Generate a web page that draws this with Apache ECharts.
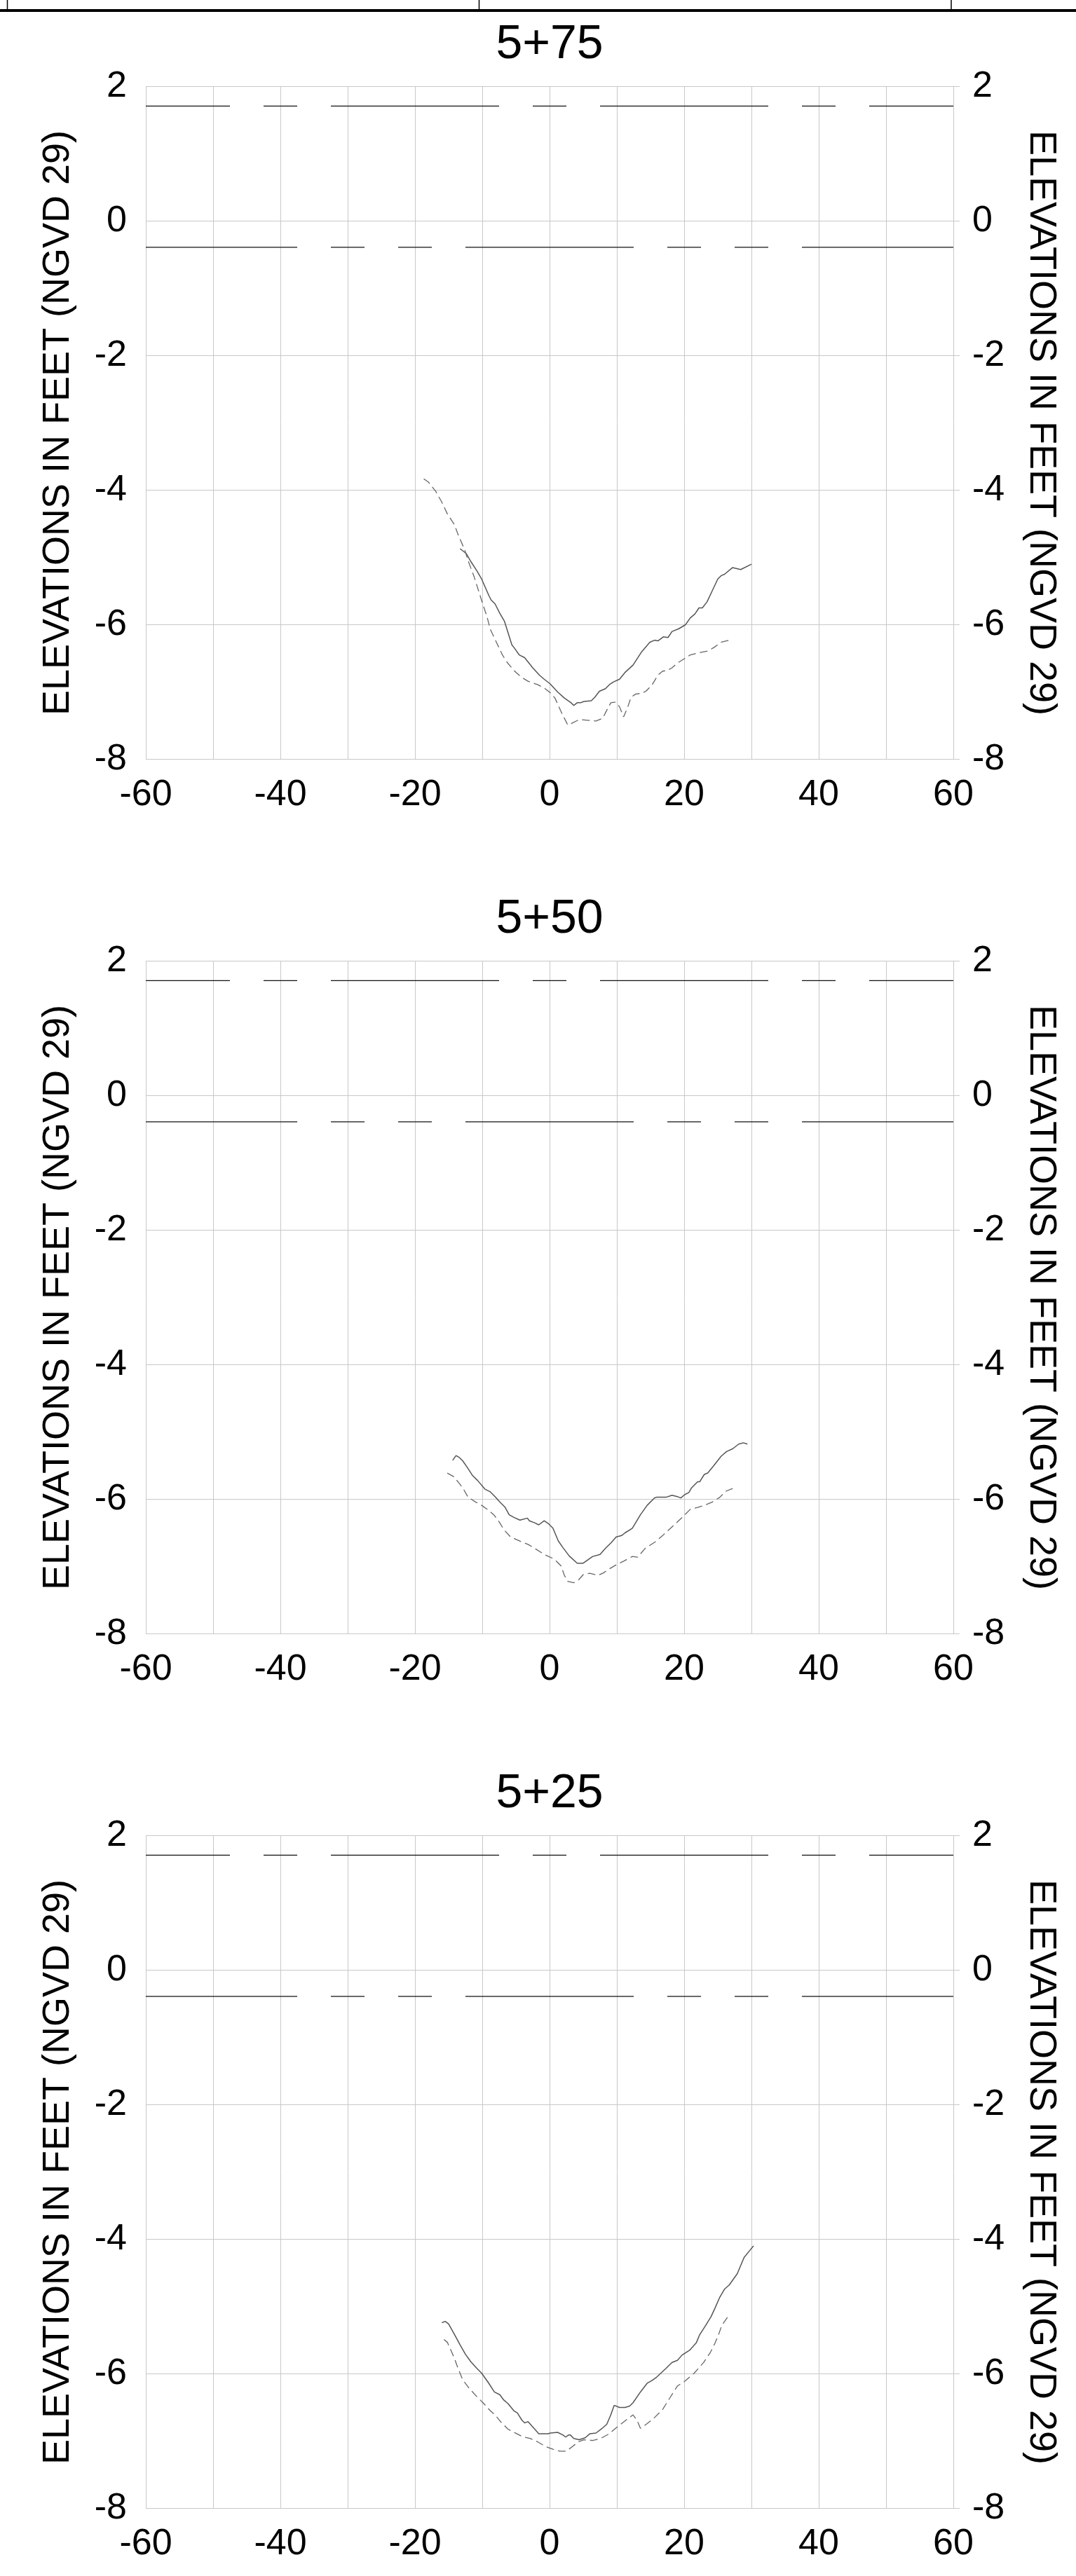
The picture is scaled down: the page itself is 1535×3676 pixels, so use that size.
<!DOCTYPE html>
<html><head><meta charset="utf-8">
<script src="https://cdn.jsdelivr.net/npm/echarts@6/dist/echarts.min.js"></script>
<style>html,body{margin:0;padding:0;background:#fff}#c{width:1535px;height:3676px}</style>
</head><body><div id="c"></div>
<script>
// ---------- DATA ----------
const stations = ['5+75', '5+50', '5+25'];
const xMin = -60, xMax = 60, xStep = 20;
const yMin = -8, yMax = 2, yStep = 2;
const upperLevel = 1.71;
const lowerLevel = -0.39;
const yAxisName = 'ELEVATIONS IN FEET (NGVD 29)';

const solid575 = [[-13.3,-4.87],[-12.4,-4.94],[-11.7,-5.06],[-10.8,-5.20],[-10.1,-5.32],[-9.0,-5.57],[-8.7,-5.63],[-8.1,-5.69],[-7.4,-5.83],[-6.7,-5.95],[-5.6,-6.30],[-5.2,-6.35],[-4.5,-6.45],[-3.7,-6.49],[-2.5,-6.64],[-1.5,-6.75],[-0.8,-6.81],[0.1,-6.88],[1.2,-7.00],[2.2,-7.09],[3.2,-7.16],[3.6,-7.20],[4.1,-7.16],[4.6,-7.16],[5.1,-7.14],[6.2,-7.13],[6.7,-7.08],[7.4,-6.99],[8.3,-6.95],[8.9,-6.89],[9.5,-6.85],[10.4,-6.81],[11.2,-6.71],[12.4,-6.60],[13.7,-6.40],[14.9,-6.26],[15.6,-6.23],[16.1,-6.24],[16.9,-6.18],[17.6,-6.19],[18.2,-6.10],[19.2,-6.06],[20.2,-6.00],[20.9,-5.90],[21.6,-5.84],[22.2,-5.75],[22.7,-5.75],[23.4,-5.66],[24.2,-5.49],[25.0,-5.32],[25.5,-5.27],[26.0,-5.25],[27.2,-5.15],[28.4,-5.18],[30.0,-5.10]];
const dashed575 = [[-18.7,-3.83],[-18.0,-3.88],[-16.9,-4.02],[-16.0,-4.18],[-15.2,-4.35],[-14.1,-4.52],[-13.6,-4.66],[-12.6,-4.89],[-12.1,-5.05],[-11.2,-5.29],[-10.0,-5.67],[-9.3,-5.88],[-8.8,-6.07],[-7.9,-6.26],[-7.0,-6.45],[-6.3,-6.56],[-5.3,-6.68],[-4.2,-6.78],[-3.2,-6.84],[-1.8,-6.89],[-0.8,-6.94],[0.1,-7.01],[0.8,-7.09],[1.7,-7.29],[2.7,-7.49],[3.2,-7.47],[4.4,-7.41],[5.7,-7.42],[6.9,-7.43],[7.9,-7.39],[8.4,-7.29],[9.1,-7.16],[9.8,-7.15],[10.4,-7.22],[11.0,-7.37],[11.6,-7.23],[12.1,-7.08],[12.8,-7.03],[13.7,-7.02],[14.3,-6.99],[15.2,-6.90],[16.1,-6.75],[16.8,-6.69],[17.5,-6.68],[18.2,-6.64],[19.0,-6.57],[20.1,-6.50],[20.9,-6.45],[22.5,-6.41],[23.5,-6.39],[24.4,-6.34],[25.5,-6.26],[26.7,-6.23]];

const solid550 = [[-14.4,-5.42],[-13.9,-5.35],[-13.4,-5.38],[-12.9,-5.43],[-12.2,-5.53],[-11.5,-5.64],[-10.7,-5.72],[-9.6,-5.85],[-8.8,-5.89],[-8.1,-5.96],[-7.4,-6.04],[-6.6,-6.12],[-6.0,-6.23],[-5.3,-6.27],[-4.4,-6.31],[-3.3,-6.28],[-3.0,-6.32],[-2.2,-6.35],[-1.6,-6.38],[-0.8,-6.32],[-0.2,-6.36],[0.5,-6.43],[1.3,-6.62],[2.0,-6.72],[2.9,-6.84],[4.1,-6.95],[5.0,-6.95],[6.4,-6.85],[7.5,-6.82],[8.3,-6.73],[9.2,-6.64],[9.9,-6.56],[10.7,-6.54],[11.2,-6.50],[12.3,-6.43],[13.5,-6.23],[14.5,-6.09],[15.6,-5.98],[15.9,-5.97],[17.3,-5.97],[18.2,-5.94],[19.0,-5.96],[19.5,-5.98],[20.1,-5.93],[20.7,-5.90],[21.1,-5.83],[22.0,-5.74],[22.3,-5.74],[23.0,-5.63],[23.5,-5.61],[24.4,-5.50],[25.5,-5.36],[26.3,-5.29],[27.2,-5.25],[28.1,-5.18],[28.8,-5.16],[29.4,-5.18]];
const dashed550 = [[-15.2,-5.61],[-14.3,-5.66],[-13.6,-5.74],[-12.9,-5.83],[-12.1,-5.97],[-11.0,-6.04],[-10.1,-6.09],[-9.1,-6.16],[-8.2,-6.24],[-7.4,-6.35],[-6.8,-6.45],[-5.8,-6.56],[-4.2,-6.63],[-3.2,-6.67],[-2.2,-6.73],[-0.8,-6.82],[0.3,-6.87],[1.0,-6.92],[1.7,-6.99],[2.2,-7.13],[2.7,-7.22],[3.6,-7.24],[4.3,-7.20],[5.0,-7.12],[6.0,-7.10],[7.2,-7.13],[7.9,-7.10],[8.8,-7.04],[9.8,-6.98],[11.0,-6.92],[12.3,-6.85],[13.1,-6.86],[14.2,-6.73],[15.6,-6.64],[16.9,-6.53],[18.3,-6.40],[19.7,-6.27],[20.9,-6.15],[22.0,-6.12],[23.0,-6.09],[24.2,-6.04],[25.3,-5.97],[26.2,-5.88],[27.2,-5.84]];

const solid525 = [[-16.0,-5.24],[-15.5,-5.22],[-15.0,-5.26],[-14.1,-5.42],[-13.3,-5.57],[-12.5,-5.71],[-11.7,-5.82],[-10.8,-5.92],[-10.1,-5.99],[-9.1,-6.13],[-8.2,-6.27],[-7.4,-6.31],[-6.8,-6.39],[-6.2,-6.44],[-5.3,-6.55],[-4.8,-6.58],[-4.1,-6.69],[-3.7,-6.73],[-3.2,-6.71],[-2.5,-6.79],[-1.6,-6.89],[-0.2,-6.89],[0.1,-6.88],[1.2,-6.87],[2.0,-6.91],[2.4,-6.94],[2.8,-6.91],[3.1,-6.91],[3.6,-6.96],[4.4,-6.98],[5.3,-6.95],[6.0,-6.89],[6.9,-6.88],[7.7,-6.82],[8.5,-6.75],[9.1,-6.61],[9.6,-6.47],[9.9,-6.48],[10.4,-6.50],[11.2,-6.50],[11.9,-6.48],[12.4,-6.43],[13.5,-6.27],[14.5,-6.14],[15.2,-6.10],[15.9,-6.05],[17.3,-5.92],[18.2,-5.83],[19.0,-5.80],[19.7,-5.72],[20.8,-5.65],[21.8,-5.54],[22.3,-5.42],[23.2,-5.28],[24.0,-5.15],[24.6,-5.02],[25.3,-4.86],[26.0,-4.74],[26.7,-4.68],[27.9,-4.51],[28.9,-4.27],[29.8,-4.16],[30.3,-4.10]];
const dashed525 = [[-15.7,-5.49],[-15.2,-5.53],[-14.7,-5.64],[-14.1,-5.78],[-13.6,-5.92],[-12.9,-6.09],[-11.9,-6.22],[-10.8,-6.34],[-9.8,-6.44],[-8.8,-6.55],[-8.1,-6.61],[-7.2,-6.72],[-6.2,-6.82],[-4.9,-6.89],[-3.9,-6.94],[-2.9,-6.96],[-1.8,-7.01],[-0.6,-7.08],[0.5,-7.12],[1.5,-7.15],[2.5,-7.15],[3.4,-7.08],[4.3,-7.01],[5.1,-6.98],[6.4,-6.99],[7.6,-6.96],[8.9,-6.89],[9.8,-6.81],[10.7,-6.74],[11.6,-6.67],[12.4,-6.61],[13.0,-6.69],[13.5,-6.81],[14.5,-6.74],[15.6,-6.65],[16.8,-6.53],[17.8,-6.37],[19.0,-6.18],[20.1,-6.11],[21.5,-5.99],[22.9,-5.83],[23.9,-5.68],[24.6,-5.54],[25.1,-5.42],[25.6,-5.28],[26.7,-5.12]];

const solidSets = [solid575, solid550, solid525];
const dashedSets = [dashed575, dashed550, dashed525];

// ---------- LAYOUT / STYLE ----------
const FONT = '"Liberation Sans", Arial, Helvetica, sans-serif';
const GRID_LEFT = 208, GRID_W = 1152, GRID_H = 960;
const gridTops = [123.5, 1371.5, 2619.5];
const GRIDC = '#c8c8c8';

const chart = echarts.init(document.getElementById('c'), null, {renderer: 'canvas'});

const grid = [], xAxis = [], yAxis = [], series = [], graphic = [];

graphic.push({type: 'rect', shape: {x: 0, y: 13, width: 1535, height: 4}, style: {fill: '#000'}, silent: true});
[10.5, 683.5, 1357].forEach(x => graphic.push({type: 'line', shape: {x1: x, y1: 0, x2: x, y2: 13}, style: {stroke: '#000', lineWidth: 1.5}, silent: true}));

gridTops.forEach((top, i) => {
  grid.push({left: GRID_LEFT, top: top, width: GRID_W, height: GRID_H, containLabel: false});
  graphic.push({
    type: 'text', x: GRID_LEFT + GRID_W / 2, y: top - 93, silent: true,
    style: {text: stations[i], font: '68px ' + FONT, fill: '#000', textAlign: 'center', textVerticalAlign: 'top'}
  });
  xAxis.push({
    gridIndex: i, type: 'value', min: xMin, max: xMax, interval: xStep,
    axisLine: {show: false},
    axisTick: {show: true, length: 9, lineStyle: {color: GRIDC, width: 1}},
    axisLabel: {fontSize: 52, color: '#000', fontFamily: FONT, margin: 25},
    splitLine: {show: true, lineStyle: {color: GRIDC, width: 1}},
    minorTick: {show: false, splitNumber: 2},
    minorSplitLine: {show: true, lineStyle: {color: GRIDC, width: 1}}
  });
  const yCommon = {
    gridIndex: i, type: 'value', min: yMin, max: yMax, interval: yStep,
    name: yAxisName, nameLocation: 'middle', nameGap: 98,
    nameTextStyle: {fontSize: 54, color: '#000', fontFamily: FONT},
    axisLine: {show: false},
    axisTick: {show: true, length: 9, lineStyle: {color: GRIDC, width: 1}},
    axisLabel: {fontSize: 52, color: '#000', fontFamily: FONT, margin: 27}
  };
  yAxis.push(Object.assign({}, yCommon, {position: 'left', nameRotate: 90, splitLine: {show: true, lineStyle: {color: GRIDC, width: 1}}}));
  yAxis.push(Object.assign({}, yCommon, {position: 'right', nameRotate: -90, splitLine: {show: false}}));

  const common = {type: 'line', xAxisIndex: i, yAxisIndex: 2 * i, symbol: 'none', silent: true, animation: false};
  series.push(Object.assign({}, common, {
    data: [[xMin, upperLevel], [xMax, upperLevel]],
    lineStyle: {color: '#111', width: 1.2, type: [240, 48, 48, 48], dashOffset: 120}
  }));
  series.push(Object.assign({}, common, {
    data: [[xMin, lowerLevel], [xMax, lowerLevel]],
    lineStyle: {color: '#111', width: 1.2, type: [240, 48, 48, 48, 48, 48], dashOffset: 24}
  }));
  series.push(Object.assign({}, common, {
    data: solidSets[i],
    lineStyle: {color: '#555', width: 1.5, type: 'solid'}
  }));
  series.push(Object.assign({}, common, {
    data: dashedSets[i],
    lineStyle: {color: '#666', width: 1.3, type: [11, 6]}
  }));
});

chart.setOption({
  animation: false,
  backgroundColor: '#fff',
  grid, xAxis, yAxis, series, graphic
});
</script>
</body></html>
